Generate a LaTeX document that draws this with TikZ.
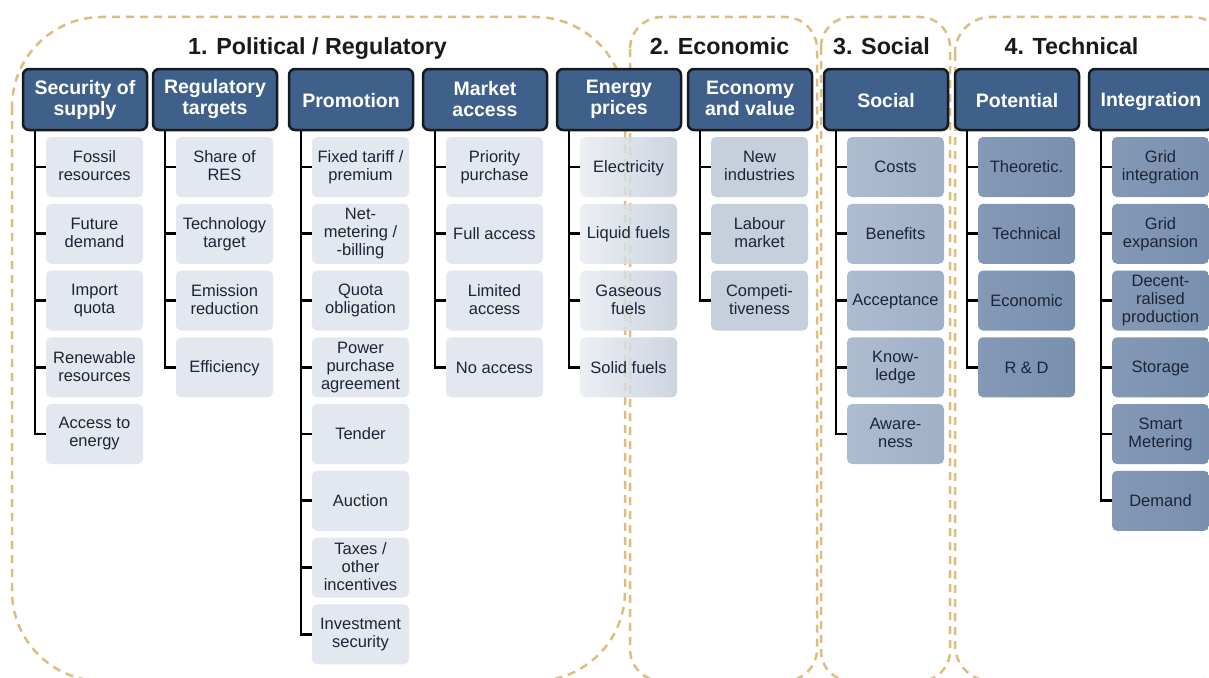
\documentclass[tikz,border=0pt]{standalone}
\usepackage{fontspec}
\setmainfont{Liberation Sans}
\usetikzlibrary{calc}
\definecolor{hdr}{HTML}{3E608A}
\definecolor{hborder}{HTML}{161A20}
\definecolor{ctext}{HTML}{1C2438}
\definecolor{titlec}{HTML}{1A1A1A}
\definecolor{dashc}{HTML}{DDBE7E}
\definecolor{polfill}{HTML}{E3E7EF}
\definecolor{epA}{HTML}{E8ECF2}
\definecolor{epB}{HTML}{C2CCDA}
\definecolor{ecofill}{HTML}{C6D0DD}
\definecolor{socA}{HTML}{AEBCD0}
\definecolor{socB}{HTML}{9FB0C7}
\definecolor{tecA}{HTML}{8499B6}
\definecolor{tecB}{HTML}{788FAE}
\newcommand\hstrut{\rule[-1.5pt]{0pt}{19.5pt}}
\newcommand\cstrut{\rule[-2.1pt]{0pt}{15.9pt}}
\tikzset{
  hbox/.style={draw=hborder, line width=2.5pt, fill=hdr, rounded corners=6pt,
    minimum width=124pt, minimum height=61pt, inner sep=0pt, text=white,
    font=\fontsize{19.5}{21}\selectfont\bfseries, align=center,
    execute at begin node=\hstrut, execute at end node=\hstrut},
  cbox/.style={rounded corners=5pt, minimum width=97pt, minimum height=60pt,
    inner sep=0pt, text=ctext, font=\fontsize{16.5}{18}\selectfont, align=center,
    execute at begin node=\cstrut, execute at end node=\cstrut},
  polc/.style={fill=polfill},
  epc/.style={left color=epA, right color=epB, fill opacity=0.82, text opacity=1},
  ecoc/.style={fill=ecofill},
  socc/.style={left color=socA, right color=socB},
  tecc/.style={left color=tecA, right color=tecB},
  region/.style={draw=dashc, line width=2.5pt, dash pattern=on 8pt off 6pt},
  tree/.style={line width=2.8pt, draw=black},
  titlebox/.style={font=\fontsize{23.3}{26}\selectfont\bfseries, text=titlec, inner sep=0pt, anchor=base}
}
\newcommand\mkcol[6]{%
  \coordinate (#1-x) at (#2+12,130);
  \foreach \t [count=\i] in {#6}{%
    \node[cbox,#4] (#1-\i) at (#2+71.5,{167+66.75*(\i-1)}) {\t};
    \draw[tree] (#1-x |- #1-\i.west) -- (#1-\i.west);
  }
  \node[hbox] (#1) at (#2+62,99.5) {#3};
  \draw[tree] (#1.south -| #1-x) |- (#1-#5.west);
}
\begin{document}
\begin{tikzpicture}[x=1pt,y=-1pt]
\useasboundingbox (0,0) rectangle (1209,677);
\clip (0,0) rectangle (1209,677);
\fill[white] (0,0) rectangle (1209,677);
% regions
\draw[region, rounded corners=90pt] (12,17) rectangle (625,681);
\draw[region, rounded corners=32pt] (630,17) rectangle (817,681);
\draw[region, rounded corners=30pt] (821,17) rectangle (950,681);
\draw[region, rounded corners=36pt] (955,17) rectangle (1228,681);
% titles
\node[titlebox] (t1) at (317.5,54.5) {1. Political / Regulatory};
\node[titlebox] (t2) at (719.5,54.5) {2. Economic};
\node[titlebox] (t3) at (881.5,54.5) {3. Social};
\node[titlebox] (t4) at (1071.5,54.5) {4. Technical};
% columns
\mkcol{sec}{23}{Security of\\supply}{polc}{5}{Fossil\\resources,Future\\demand,Import\\quota,Renewable\\resources,Access to\\energy}
\mkcol{reg}{153}{Regulatory\\targets}{polc}{4}{Share of\\RES,Technology\\target,Emission\\reduction,Efficiency}
\mkcol{pro}{289}{Promotion}{polc}{8}{Fixed tariff /\\premium,Net-\\metering /\\-billing,Quota\\obligation,Power\\purchase\\agreement,Tender,Auction,Taxes /\\other\\incentives,Investment\\security}
\mkcol{mar}{423}{Market\\access}{polc}{4}{Priority\\purchase,Full access,Limited\\access,No access}
\mkcol{ene}{557}{Energy\\prices}{epc}{4}{Electricity,Liquid fuels,Gaseous\\fuels,Solid fuels}
\mkcol{eco}{688}{Economy\\and value}{ecoc}{3}{New\\industries,Labour\\market,Competi-\\tiveness}
\mkcol{soc}{824}{Social}{socc}{5}{Costs,Benefits,Acceptance,Know-\\ledge,Aware-\\ness}
\mkcol{pot}{955}{Potential}{tecc}{4}{Theoretic.,Technical,Economic,R \& D}
\mkcol{int}{1089}{Integration}{tecc}{6}{Grid\\integration,Grid\\expansion,Decent-\\ralised\\production,Storage,Smart\\Metering,Demand}
\end{tikzpicture}
\end{document}
